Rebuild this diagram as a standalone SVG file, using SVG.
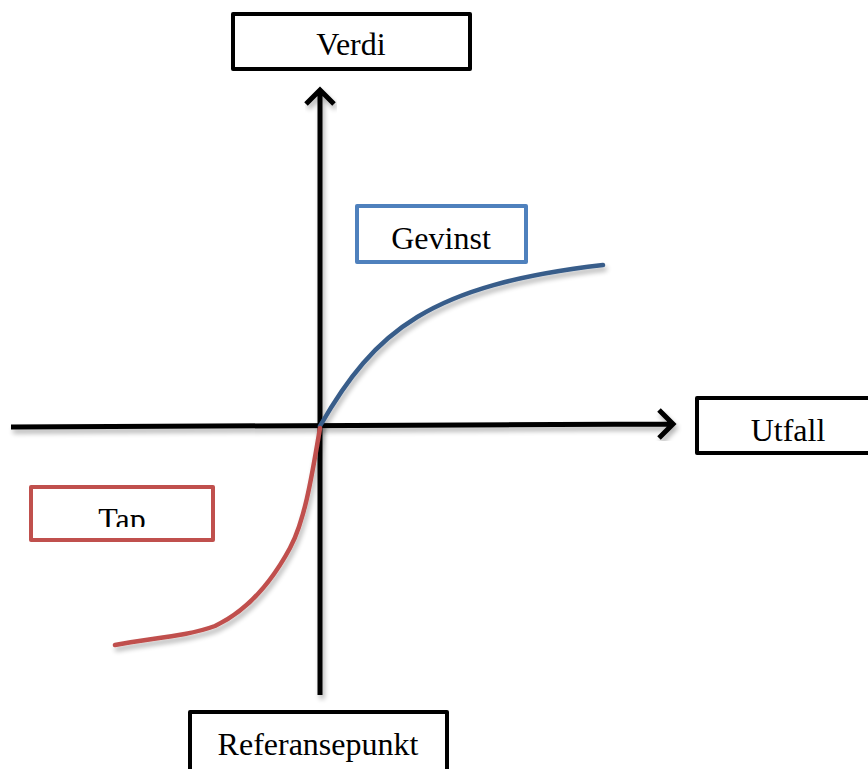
<svg xmlns="http://www.w3.org/2000/svg" width="868" height="769" viewBox="0 0 868 769">
<style>
.box{fill:#fff;stroke-width:4;stroke-linejoin:round}
.k{stroke:#000}
.b{stroke:#4F81BD}
.r{stroke:#C0504D}
text{font-family:'Liberation Serif','Times New Roman',Times,serif;font-size:32px;fill:#000;text-anchor:middle}
.ax{stroke:#000;stroke-width:5;fill:none;filter:url(#sh)}
.cv{stroke-width:4.5;fill:none;stroke-linecap:round;filter:url(#sh)}
</style>
<defs>
<filter id="sh" x="-10%" y="-10%" width="120%" height="120%">
<feGaussianBlur in="SourceAlpha" stdDeviation="2.5"/>
<feOffset dx="2" dy="4" result="o"/>
<feComponentTransfer><feFuncA type="linear" slope="0.3"/></feComponentTransfer>
<feMerge><feMergeNode/><feMergeNode in="SourceGraphic"/></feMerge>
</filter>
<clipPath id="tapclip"><rect x="33" y="488" width="178" height="39"/></clipPath>
</defs>
<g id="connectors">
<path class="ax" d="M320,695 V90 M306,104 L320,90 L334,104"/>
<path class="ax" d="M11,427 L673,424 M659,410 L673,424 L659,438"/>
<path class="cv" stroke="#385D8A" d="M320,426 C375,330 430,285 603,265"/>
<path class="cv" stroke="#C0504D" d="M320,428 C312,475 305,520 290,548 C270,585 245,612 215,626 C185,637 150,638 115,645"/>
</g>
<g id="verdi"><rect class="box k" x="233" y="14" width="237" height="55"/><text x="351" y="55">Verdi</text></g>
<g id="gevinst"><rect class="box b" x="357" y="206" width="169" height="56"/><text x="441" y="249">Gevinst</text></g>
<g id="utfall"><rect class="box k" x="697" y="398" width="175" height="55"/><text x="788" y="441">Utfall</text></g>
<g id="tap"><rect class="box r" x="31" y="487" width="182" height="53"/><text x="122" y="530" clip-path="url(#tapclip)">Tap</text></g>
<g id="referansepunkt"><rect class="box k" x="190" y="712" width="257" height="62"/><text x="318" y="755">Referansepunkt</text></g>
</svg>
